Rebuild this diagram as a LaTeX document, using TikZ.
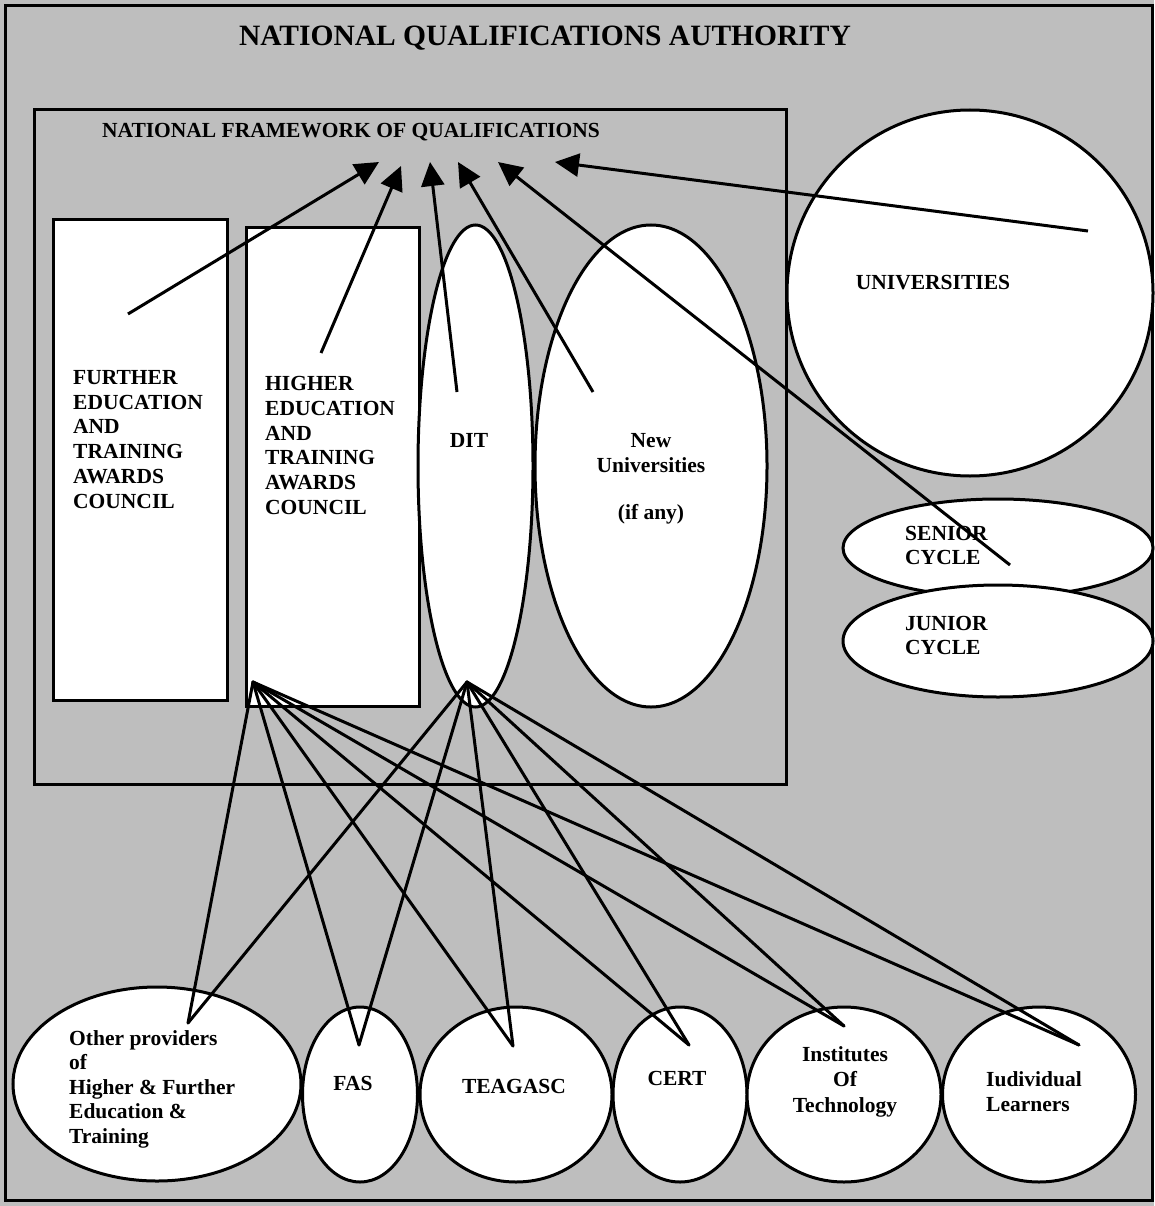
\documentclass[tikz,border=0pt]{standalone}
\usepackage{fontspec}
\setmainfont{Liberation Serif}
\usetikzlibrary{shapes.geometric,arrows.meta}
\definecolor{bggray}{RGB}{190,190,190}
\begin{document}
\begin{tikzpicture}[x=1pt,y=-1pt,
  shapeline/.style={draw=black,line width=3pt,fill=white},
  boxnode/.style={shapeline,rectangle,inner sep=0pt,anchor=north west},
  ovalnode/.style={shapeline,ellipse,inner sep=0pt},
  lbl/.style={font=\bfseries\fontsize{21.5}{24.8}\selectfont,text=black,inner sep=0pt},
  leftblock/.style={lbl,align=left,anchor=north west},
  centerblock/.style={lbl,align=center,anchor=north},
  fanline/.style={line width=3pt,line cap=round},
  upline/.style={line width=3pt,-{Triangle[length=24pt,width=23pt]}}
]
\useasboundingbox (0,0) rectangle (1154,1206);
\fill[bggray] (0,0) rectangle (1154,1206);
\node[draw=black,line width=3.2pt,rectangle,inner sep=0pt,anchor=north west,
      minimum width=1147pt,minimum height=1195pt] (frame) at (4,4) {};

% title
\node[lbl,font=\bfseries\fontsize{29.5}{32}\selectfont] (nqa) at (545,38) {NATIONAL QUALIFICATIONS AUTHORITY};

% national framework
\node[draw=black,line width=3pt,rectangle,inner sep=0pt,anchor=north west,
      minimum width=752pt,minimum height=675pt] (nfq) at (33,108) {};
\node[lbl] (nfqlabel) at (351,132) {NATIONAL FRAMEWORK OF QUALIFICATIONS};

% awards councils
\node[boxnode,minimum width=174pt,minimum height=481pt] (fetac) at (52,218) {};
\node[boxnode,minimum width=173pt,minimum height=479pt] (hetac) at (245,226) {};

% DIT and new universities
\node[ovalnode,minimum width=115pt,minimum height=482pt] (dit) at (475.5,466) {};
\node[ovalnode,minimum width=232pt,minimum height=482pt] (newuni) at (651,466) {};

% universities and school cycles
\node[ovalnode,minimum width=366pt,minimum height=366pt] (uni) at (970,293) {};
\node[ovalnode,minimum width=310pt,minimum height=98pt] (senior) at (998,548) {};
\node[ovalnode,minimum width=310pt,minimum height=112pt] (junior) at (998,641) {};

% bottom providers
\node[ovalnode,minimum width=288pt,minimum height=194pt] (other) at (157,1084) {};
\node[ovalnode,minimum width=115pt,minimum height=175pt] (fas) at (360,1094.5) {};
\node[ovalnode,minimum width=192pt,minimum height=175pt] (teagasc) at (516,1094.5) {};
\node[ovalnode,minimum width=134pt,minimum height=175pt] (cert) at (680,1094.5) {};
\node[ovalnode,minimum width=194pt,minimum height=175pt] (inst) at (844,1094.5) {};
\node[ovalnode,minimum width=193pt,minimum height=175pt] (indiv) at (1039,1094.5) {};

% texts
\node[leftblock] (fetactext) at (73,370) {FURTHER\\EDUCATION\\AND\\TRAINING\\AWARDS\\COUNCIL};
\node[leftblock] (hetactext) at (265,376) {HIGHER\\EDUCATION\\AND\\TRAINING\\AWARDS\\COUNCIL};
\node[lbl] (dittext) at (469,440) {DIT};
\node[centerblock] (newunitext) at (651,433) {New\\Universities\\[23pt](if any)};
\node[lbl] (unitext) at (933,283) {UNIVERSITIES};
\node[leftblock,font=\bfseries\fontsize{21.5}{24}\selectfont] (seniortext) at (905,526) {SENIOR\\CYCLE};
\node[leftblock,font=\bfseries\fontsize{21.5}{24}\selectfont] (juniortext) at (905,616) {JUNIOR\\CYCLE};
\node[leftblock,font=\bfseries\fontsize{21.5}{24.5}\selectfont] (othertext) at (69,1030) {Other providers\\of\\Higher \& Further\\Education \&\\Training};
\node[lbl] (fastext) at (353,1083) {FAS};
\node[lbl] (teagasctext) at (514,1086) {TEAGASC};
\node[lbl] (certtext) at (677,1078) {CERT};
\node[centerblock,font=\bfseries\fontsize{21.5}{25.5}\selectfont] (insttext) at (845,1046) {Institutes\\Of\\Technology};
\node[leftblock,font=\bfseries\fontsize{21.5}{25}\selectfont] (indivtext) at (986,1071) {Iudividual\\Learners};

% connector end points
\coordinate (fetacsrc) at (128,314);
\coordinate (hetacsrc) at (321,353);
\coordinate (ditsrc) at (457,392);
\coordinate (newunisrc) at (593,392);
\coordinate (seniorsrc) at (1010,565);
\coordinate (unisrc) at (1088,231);
\coordinate (tipa) at (379,162);
\coordinate (tipb) at (401,166);
\coordinate (tipc) at (430,162);
\coordinate (tipd) at (458,162);
\coordinate (tipe) at (498,162);
\coordinate (tipf) at (555,162);

\coordinate (hetacfan) at (253,682);
\coordinate (ditfan) at (467,682);
\coordinate (otherend) at (188,1023);
\coordinate (fasend) at (359,1045);
\coordinate (teagascend) at (513,1046);
\coordinate (certend) at (689,1045);
\coordinate (instend) at (844,1026);
\coordinate (indivend) at (1079,1045);

% arrows up to the framework
\draw[upline] (fetacsrc) -- (tipa);
\draw[upline] (hetacsrc) -- (tipb);
\draw[upline] (ditsrc) -- (tipc);
\draw[upline] (newunisrc) -- (tipd);
\draw[upline] (seniorsrc) -- (tipe);
\draw[upline] (unisrc) -- (tipf);

% fans to the providers
\foreach \e in {otherend,fasend,teagascend,certend,instend,indivend}{
  \draw[fanline] (hetacfan) -- (\e);
  \draw[fanline] (ditfan) -- (\e);
}
\end{tikzpicture}
\end{document}
